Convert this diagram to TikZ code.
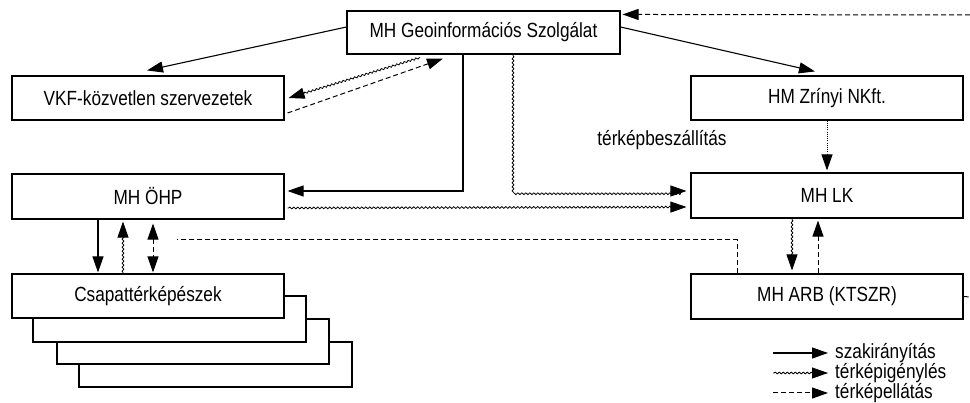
\documentclass[tikz,border=0pt]{standalone}
\usepackage{fontspec}
\setmainfont[FakeStretch=0.84]{Liberation Sans}
\usetikzlibrary{arrows.meta,decorations.pathmorphing,calc}
\tikzset{
  box/.style={draw, line width=1.1pt, fill=white, minimum width=272pt, minimum height=44pt, inner sep=0pt},
  shadowbox/.style={draw, line width=1.1pt, fill=white},
  tip/.style={-{Triangle[length=16pt,width=11pt]}},
  solidarr/.style={tip, line width=1.1pt},
  wavyarr/.style={tip, line width=0.8pt, decorate, decoration={snake, amplitude=0.9pt, segment length=4pt, pre length=1pt, post length=3pt}},
  dasharr/.style={tip, line width=1pt, dash pattern=on 5pt off 3pt},
  dashline/.style={line width=1pt, dash pattern=on 5pt off 3pt},
  dotarr/.style={tip, line width=1pt, dash pattern=on 1pt off 1.2pt},
  lbl/.style={inner sep=0pt, anchor=west}
}
\begin{document}
\begin{tikzpicture}[x=1pt, y=-1pt, font=\fontsize{20.5}{24}\selectfont]
\useasboundingbox (0,0) rectangle (970,403);
% shadow boxes behind Csapattérképészek
\draw[shadowbox] (79,342) rectangle (352,387);
\draw[shadowbox] (57,319) rectangle (329,364);
\draw[shadowbox] (33,296) rectangle (306,342);
% main boxes
\node[box, minimum width=273pt, minimum height=43pt] (geo) at (483.5,32.5) {MH Geoinformációs Szolgálat};
\node[box] (vkf) at (148,98) {VKF-közvetlen szervezetek};
\node[box] (hm) at (827,98) {HM Zrínyi NKft.};
\node[box, minimum height=45pt] (ohp) at (148,196.5) {MH ÖHP};
\node[box, minimum height=45pt] (lk) at (827,195.5) {MH LK};
\node[box] (csap) at (148,296) {Csapattérképészek};
\node[box, minimum height=45pt] (arb) at (827,296.5) {MH ARB (KTSZR)};
\node[inner sep=0pt] (besz) at (662,140) {térképbeszállítás};
% connectors
\draw[solidarr] ([yshift=5.5pt]geo.west) -- ([xshift=-1pt,yshift=5pt]vkf.north);
\draw[solidarr] ([yshift=5.5pt]geo.east) -- ([xshift=-12pt,yshift=4pt]hm.north);
\draw[wavyarr] ([xshift=-63.5pt,yshift=-3pt]geo.south) -- ([xshift=4pt]vkf.east);
\draw[dasharr] ([xshift=3pt,yshift=-15pt]vkf.east) -- ([xshift=-40.5pt,yshift=-4pt]geo.south);
\draw[solidarr] ([xshift=-20.5pt]geo.south) |- ([xshift=3pt,yshift=5.5pt]ohp.east);
\draw[wavyarr] ([xshift=29.5pt]geo.south) |- ([xshift=-4pt,yshift=4.5pt]lk.west);
\draw[wavyarr] ([xshift=3pt,yshift=-11.5pt]ohp.east) -- ([xshift=-4pt,yshift=-11.5pt]lk.west);
\draw[dotarr] (hm.south) -- ([yshift=2pt]lk.north);
\draw[wavyarr] ([xshift=-35pt]lk.south) -- ([xshift=-35pt,yshift=3pt]arb.north);
\draw[dasharr] ([xshift=-9pt]arb.north) -- ([xshift=-9pt,yshift=-2pt]lk.south);
\coordinate (dend) at (177,240);
\draw[dashline] ([xshift=-90pt]arb.north) |- (dend);
\draw[solidarr] ([xshift=-50pt]ohp.south) -- ([xshift=-50pt,yshift=1pt]csap.north);
\draw[wavyarr] ([xshift=-25pt]csap.north) -- ([xshift=-25pt,yshift=-2pt]ohp.south);
\draw[dasharr, {Triangle[length=16pt,width=11pt]}-{Triangle[length=16pt,width=11pt]}] ([xshift=5pt,yshift=-4pt]ohp.south) -- ([xshift=5pt,yshift=1pt]csap.north);
\coordinate (topin) at (970,15);
\draw[dasharr] (topin) -- ([xshift=2pt,yshift=-4pt]geo.north east);
\coordinate (arbout) at (970,297);
\draw[dashline] (arb.east) -- (arbout);
% legend
\coordinate (l1a) at (773,353); \coordinate (l1b) at (828,353);
\coordinate (l2a) at (773,373); \coordinate (l2b) at (828,373);
\coordinate (l3a) at (773,393); \coordinate (l3b) at (828,393);
\draw[solidarr] (l1a) -- (l1b);
\draw[wavyarr] (l2a) -- (l2b);
\draw[dasharr] (l3a) -- (l3b);
\node[lbl] (t1) at (835,353) {szakirányítás};
\node[lbl] (t2) at (835,373) {térképigénylés};
\node[lbl] (t3) at (835,393) {térképellátás};
\end{tikzpicture}
\end{document}
